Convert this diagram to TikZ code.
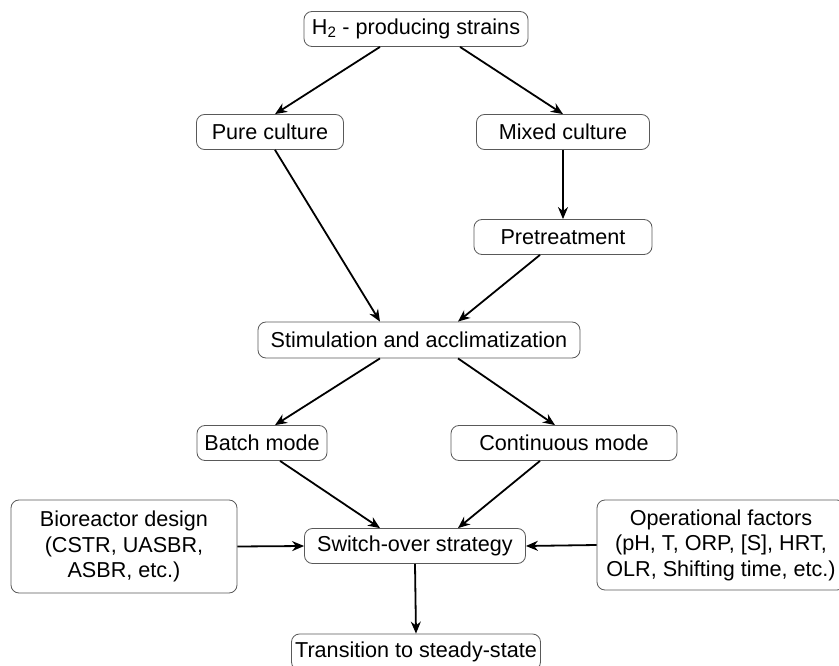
\documentclass[tikz,border=0pt]{standalone}
\usepackage{fontspec}
\setmainfont{Liberation Sans}
\usepackage{tikz}
\usetikzlibrary{positioning,arrows.meta}

\begin{document}
\begin{tikzpicture}[
        x=1pt, y=-1pt,
        stage/.style={draw=black!65, line width=0.8pt, rounded corners=8pt, fill=white,
            minimum height=35pt, inner sep=2pt, font=\fontsize{21.6}{25.5}\selectfont},
        flow/.style={-{Stealth[length=12pt,width=10pt]}, line width=1.8pt}
    ]
    \useasboundingbox (0,0) rectangle (839,666);

    % Strains and culture type
    \node[stage, minimum width=224pt] (strains) at (416,29) {H\textsubscript{2} - producing strains};
    \node[stage, minimum width=147pt] (pure) at (270,132) {Pure culture};
    \node[stage, minimum width=173pt] (mixed) at (563,132) {Mixed culture};
    \node[stage, minimum width=178pt] (pretreat) at (563,237) {Pretreatment};

    % Stimulation and operating mode
    \node[stage, minimum width=322pt, minimum height=36pt] (stim) at (419,340) {Stimulation and acclimatization};
    \node[stage, minimum width=130pt] (batch) at (262,443) {Batch mode};
    \node[stage, minimum width=226pt] (cont) at (564,443) {Continuous mode};

    % Switch-over and its inputs
    \node[stage, minimum width=221pt] (switch) at (415,546) {Switch-over strategy};
    \node[stage, minimum width=226pt, minimum height=93pt, align=center] (design) at (124,546.5)
        {Bioreactor design\\(CSTR, UASBR,\\ASBR, etc.)};
    \node[stage, minimum width=248pt, minimum height=90pt, align=center] (factors) at (721,545)
        {Operational factors\\(pH, T, ORP, [S], HRT,\\OLR, Shifting time, etc.)};
    \node[stage, minimum width=249pt, minimum height=36pt] (steady) at (416,652) {Transition to steady-state};

    % Arrows
    \draw[flow] ([xshift=-36pt]strains.south) -- ([xshift=5pt]pure.north);
    \draw[flow] ([xshift=44pt]strains.south) -- (mixed.north);
    \draw[flow] (mixed.south) -- (pretreat.north);
    \draw[flow] ([xshift=5pt]pure.south) -- ([xshift=-39pt]stim.north);
    \draw[flow] ([xshift=-23pt]pretreat.south) -- ([xshift=39pt]stim.north);
    \draw[flow] ([xshift=-39pt]stim.south) -- ([xshift=13pt]batch.north);
    \draw[flow] ([xshift=39pt]stim.south) -- ([xshift=-9pt]cont.north);
    \draw[flow] ([xshift=18pt]batch.south) -- ([xshift=-35pt]switch.north);
    \draw[flow] ([xshift=-24pt]cont.south) -- ([xshift=43pt]switch.north);
    \draw[flow] (design.east) -- (switch.west);
    \draw[flow] (factors.west) -- (switch.east);
    \draw[flow] (switch.south) -- (steady.north);

\end{tikzpicture}
\end{document}
